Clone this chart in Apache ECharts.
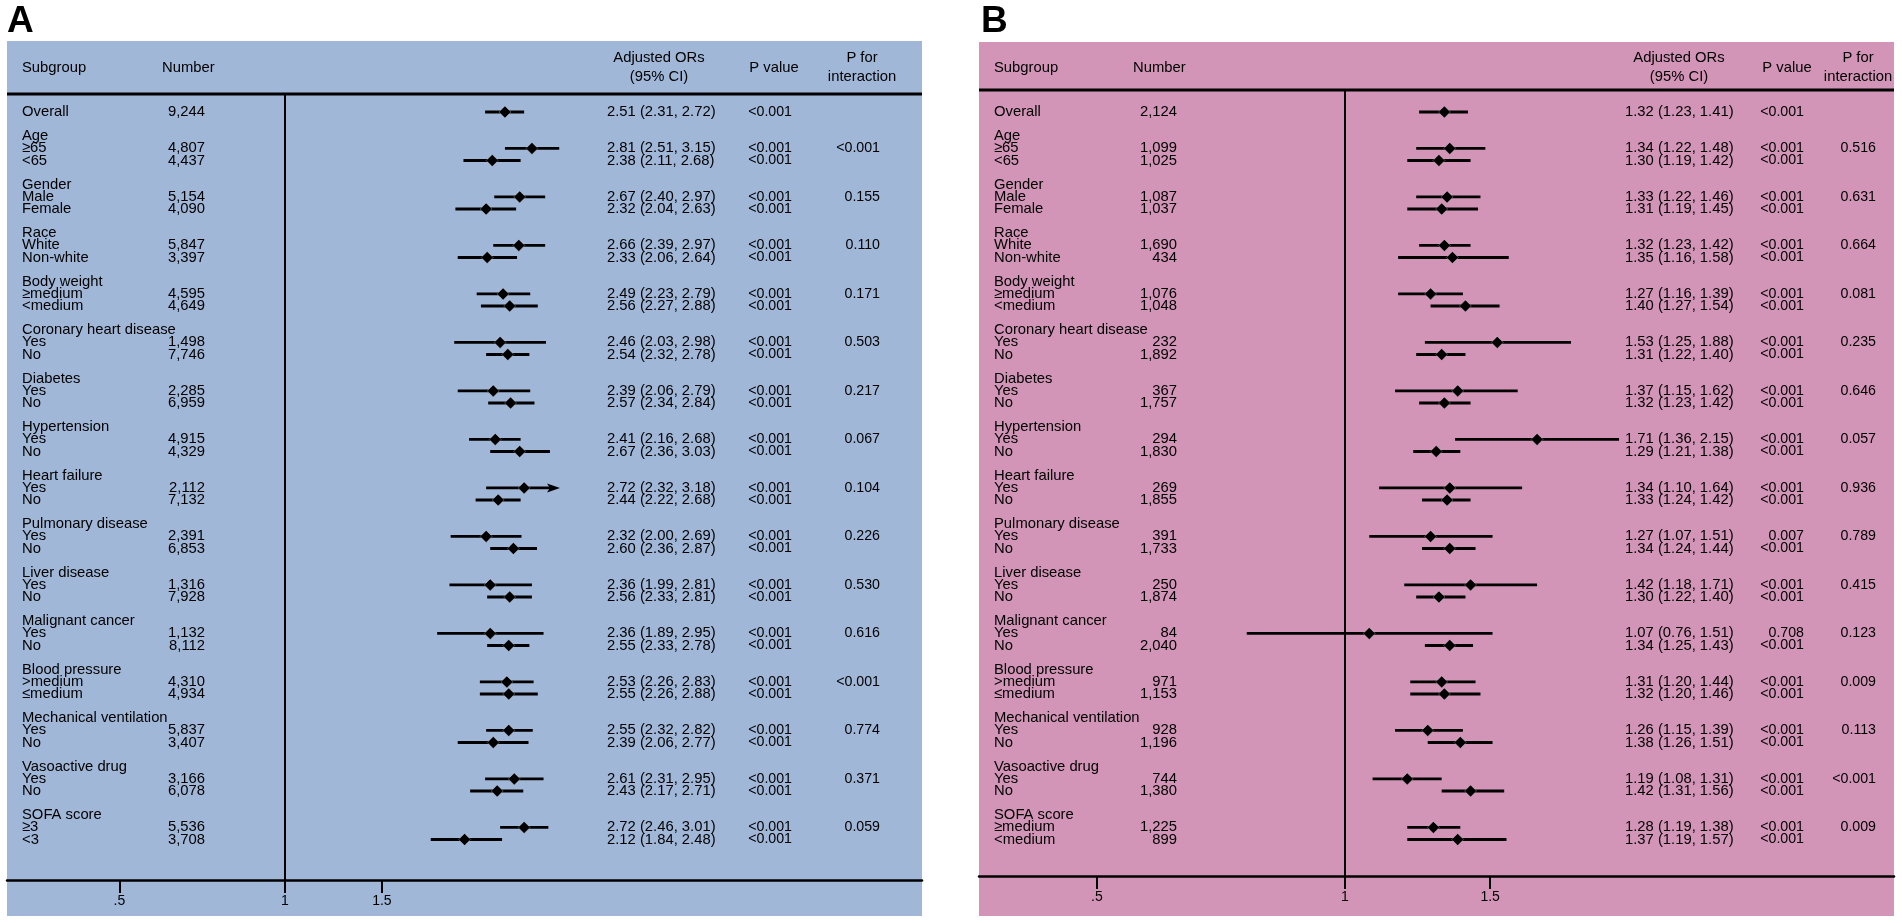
<!DOCTYPE html>
<html>
<head>
<meta charset="utf-8">
<script src="https://cdn.jsdelivr.net/npm/echarts@6/dist/echarts.min.js"></script>
<style>
html,body{margin:0;padding:0;background:#fff;}
#chart{width:1902px;height:923px;}
</style>
</head>
<body>
<div id="chart"></div>
<script>
// ---------------- DATA ----------------
const rowLabelsA = ['Overall','Age','≥65','<65','Gender','Male','Female','Race','White','Non-white','Body weight','≥medium','<medium','Coronary heart disease','Yes','No','Diabetes','Yes','No','Hypertension','Yes','No','Heart failure','Yes','No','Pulmonary disease','Yes','No','Liver disease','Yes','No','Malignant cancer','Yes','No','Blood pressure','>medium','≤medium','Mechanical ventilation','Yes','No','Vasoactive drug','Yes','No','SOFA score','≥3','<3'];
const rowLabelsB = ['Overall','Age','≥65','<65','Gender','Male','Female','Race','White','Non-white','Body weight','≥medium','<medium','Coronary heart disease','Yes','No','Diabetes','Yes','No','Hypertension','Yes','No','Heart failure','Yes','No','Pulmonary disease','Yes','No','Liver disease','Yes','No','Malignant cancer','Yes','No','Blood pressure','>medium','≤medium','Mechanical ventilation','Yes','No','Vasoactive drug','Yes','No','SOFA score','≥medium','<medium'];

const nA  = [9244, 4807,4437, 5154,4090, 5847,3397, 4595,4649, 1498,7746, 2285,6959, 4915,4329, 2112,7132, 2391,6853, 1316,7928, 1132,8112, 4310,4934, 5837,3407, 3166,6078, 5536,3708];
const orA = [2.51, 2.81,2.38, 2.67,2.32, 2.66,2.33, 2.49,2.56, 2.46,2.54, 2.39,2.57, 2.41,2.67, 2.72,2.44, 2.32,2.60, 2.36,2.56, 2.36,2.55, 2.53,2.55, 2.55,2.39, 2.61,2.43, 2.72,2.12];
const loA = [2.31, 2.51,2.11, 2.40,2.04, 2.39,2.06, 2.23,2.27, 2.03,2.32, 2.06,2.34, 2.16,2.36, 2.32,2.22, 2.00,2.36, 1.99,2.33, 1.89,2.33, 2.26,2.26, 2.32,2.06, 2.31,2.17, 2.46,1.84];
const hiA = [2.72, 3.15,2.68, 2.97,2.63, 2.97,2.64, 2.79,2.88, 2.98,2.78, 2.79,2.84, 2.68,3.03, 3.18,2.68, 2.69,2.87, 2.81,2.81, 2.95,2.78, 2.83,2.88, 2.82,2.77, 2.95,2.71, 3.01,2.48];
const pA  = ['<0.001','<0.001','<0.001','<0.001','<0.001','<0.001','<0.001','<0.001','<0.001','<0.001','<0.001','<0.001','<0.001','<0.001','<0.001','<0.001','<0.001','<0.001','<0.001','<0.001','<0.001','<0.001','<0.001','<0.001','<0.001','<0.001','<0.001','<0.001','<0.001','<0.001','<0.001'];
const pIntA = ['<0.001','0.155','0.110','0.171','0.503','0.217','0.067','0.104','0.226','0.530','0.616','<0.001','0.774','0.371','0.059'];

const nB  = [2124, 1099,1025, 1087,1037, 1690,434, 1076,1048, 232,1892, 367,1757, 294,1830, 269,1855, 391,1733, 250,1874, 84,2040, 971,1153, 928,1196, 744,1380, 1225,899];
const orB = [1.32, 1.34,1.30, 1.33,1.31, 1.32,1.35, 1.27,1.40, 1.53,1.31, 1.37,1.32, 1.71,1.29, 1.34,1.33, 1.27,1.34, 1.42,1.30, 1.07,1.34, 1.31,1.32, 1.26,1.38, 1.19,1.42, 1.28,1.37];
const loB = [1.23, 1.22,1.19, 1.22,1.19, 1.23,1.16, 1.16,1.27, 1.25,1.22, 1.15,1.23, 1.36,1.21, 1.10,1.24, 1.07,1.24, 1.18,1.22, 0.76,1.25, 1.20,1.20, 1.15,1.26, 1.08,1.31, 1.19,1.19];
const hiB = [1.41, 1.48,1.42, 1.46,1.45, 1.42,1.58, 1.39,1.54, 1.88,1.40, 1.62,1.42, 2.15,1.38, 1.64,1.42, 1.51,1.44, 1.71,1.40, 1.51,1.43, 1.44,1.46, 1.39,1.51, 1.31,1.56, 1.38,1.57];
const pB  = ['<0.001','<0.001','<0.001','<0.001','<0.001','<0.001','<0.001','<0.001','<0.001','<0.001','<0.001','<0.001','<0.001','<0.001','<0.001','<0.001','<0.001','0.007','<0.001','<0.001','<0.001','0.708','<0.001','<0.001','<0.001','<0.001','<0.001','<0.001','<0.001','<0.001','<0.001'];
const pIntB = ['0.516','0.631','0.664','0.081','0.235','0.646','0.057','0.936','0.789','0.415','0.123','0.009','0.113','<0.001','0.009'];

const axisTicks = [0.5, 1, 1.5];
const axisTickLabels = ['.5', '1', '1.5'];

// ---------------- LAYOUT ----------------
const FONT = '"Liberation Sans", Arial, Helvetica, sans-serif';
const ROW_PX = 12.125;
const FIRST_ROW_Y = 112;

const panels = [
  { letter:'A', color:'#A0B7D8', x:7, y:41, w:915, h:875, headerY:94, axisY:880,
    oneX:285, pxPerLn:239, min:0.4, max:3.16,
    colLabel:15, colNumR:198, colCI:600, colPR:785, colPIntR:873,
    hNumber:155, hCI:652, hP:767, hPInt:855,
    labels:rowLabelsA, n:nA, or:orA, lo:loA, hi:hiA, p:pA, pInt:pIntA },
  { letter:'B', color:'#D395B7', x:979, y:42, w:915, h:874, headerY:90, axisY:876,
    oneX:1345, pxPerLn:358, min:0.4, max:2.2,
    colLabel:15, colNumR:198, colCI:646, colPR:825, colPIntR:897,
    hNumber:154, hCI:700, hP:808, hPInt:879,
    labels:rowLabelsB, n:nB, or:orB, lo:loB, hi:hiB, p:pB, pInt:pIntB }
];

function rowUnits(labels){
  const labelY = [], dataY = [], pIntY = [];
  labels.forEach((t, i) => {
    let y;
    if (i === 0) { y = 0; dataY.push(y); }
    else {
      const g = Math.floor((i - 1) / 3), k = (i - 1) % 3;
      y = 2 + 4 * g + k;
      if (k > 0) dataY.push(y);
      if (k === 1) pIntY.push(y);
    }
    labelY.push(y);
  });
  return { labelY, dataY, pIntY };
}

const grids = [], xAxes = [], yAxes = [], series = [], graphics = [];

function textSeries(axisIdx, xVal, ys, texts, fontSize, align){
  return {
    type:'custom', coordinateSystem:'cartesian2d', xAxisIndex:axisIdx, yAxisIndex:axisIdx,
    silent:true, clip:false, animation:false, z:6,
    data: ys.map(y => [xVal, y]),
    renderItem: (params, api) => {
      const p = api.coord([api.value(0), api.value(1)]);
      return { type:'text', x:p[0], y:p[1],
        style:{ text:texts[params.dataIndex], fill:'#000', fontSize:fontSize, fontFamily:FONT,
                align:align, verticalAlign:'middle' } };
    }
  };
}

panels.forEach((P, pi) => {
  const tIdx = pi * 2, gIdx = pi * 2 + 1;
  const top = P.headerY, height = P.axisY - P.headerY;
  const yMin = -(FIRST_ROW_Y - top) / ROW_PX;
  const yMax = yMin + height / ROW_PX;
  const plotLeft = P.oneX + P.pxPerLn * Math.log(P.min);
  const plotRight = P.oneX + P.pxPerLn * Math.log(P.max);
  const R = rowUnits(P.labels);

  grids.push({ left:P.x, top:top, width:P.w, height:height, outerBoundsMode:'none', containLabel:false });
  grids.push({ left:plotLeft, top:top, width:plotRight - plotLeft, height:height, outerBoundsMode:'none', containLabel:false });

  xAxes.push({ type:'value', gridIndex:tIdx, min:0, max:P.w, position:'bottom',
    axisLine:{ show:true, onZero:false, lineStyle:{ color:'#000', width:2.5 } },
    axisTick:{ show:false }, axisLabel:{ show:false }, splitLine:{ show:false } });
  xAxes.push({ type:'log', gridIndex:gIdx, min:P.min, max:P.max, position:'bottom',
    axisLine:{ show:false, onZero:false },
    splitLine:{ show:false }, minorTick:{ show:false },
    axisTick:{ show:true, customValues:axisTicks, length:13, inside:false, lineStyle:{ color:'#000', width:2 } },
    axisLabel:{ show:true, customValues:axisTicks, margin:14, color:'#000', fontSize:14, fontFamily:FONT,
      formatter: v => { const i = axisTicks.findIndex(t => Math.abs(t - v) < 1e-9); return i >= 0 ? axisTickLabels[i] : ''; } } });

  yAxes.push({ type:'value', gridIndex:tIdx, inverse:true, min:yMin, max:yMax, show:false });
  yAxes.push({ type:'value', gridIndex:gIdx, inverse:true, min:yMin, max:yMax, show:false });

  // Text columns
  series.push(textSeries(tIdx, P.colLabel, R.labelY, P.labels, 14.8, 'left'));
  series.push(textSeries(tIdx, P.colNumR, R.dataY, P.n.map(v => v.toLocaleString('en-US')), 14.8, 'right'));
  series.push(textSeries(tIdx, P.colCI, R.dataY,
    P.or.map((v, i) => v.toFixed(2) + ' (' + P.lo[i].toFixed(2) + ', ' + P.hi[i].toFixed(2) + ')'), 14.8, 'left'));
  series.push(textSeries(tIdx, P.colPR, R.dataY, P.p, 14.2, 'right'));
  series.push(textSeries(tIdx, P.colPIntR, R.pIntY, P.pInt, 14.2, 'right'));

  // Confidence intervals
  const axMax = P.max;
  series.push({
    type:'custom', coordinateSystem:'cartesian2d', xAxisIndex:gIdx, yAxisIndex:gIdx,
    silent:true, clip:false, animation:false, z:4,
    encode:{ x:[0,1,2], y:3 },
    data: P.or.map((v, i) => [v, P.lo[i], P.hi[i], R.dataY[i]]),
    renderItem: (params, api) => {
      const y = api.value(3), lo = api.value(1), hi = api.value(2);
      const clipped = hi > axMax;
      const p1 = api.coord([lo, y]);
      const p2 = api.coord([clipped ? axMax : hi, y]);
      const children = [{ type:'line', shape:{ x1:p1[0], y1:p1[1], x2:clipped ? p2[0] - 6 : p2[0], y2:p2[1] },
        style:{ stroke:'#000', lineWidth:2.8 } }];
      if (clipped) {
        children.push({ type:'polygon', shape:{ points:[[p2[0], p2[1]], [p2[0] - 13, p2[1] - 4.5], [p2[0] - 10, p2[1]], [p2[0] - 13, p2[1] + 4.5]] },
          style:{ fill:'#000' } });
      }
      return { type:'group', children };
    }
  });

  // Point estimates + reference line at 1
  series.push({
    type:'scatter', xAxisIndex:gIdx, yAxisIndex:gIdx, silent:true, animation:false, z:5,
    symbol:'diamond', symbolSize:[12, 12],
    itemStyle:{ color:'#000', borderColor:'rgba(255,255,255,0.35)', borderWidth:0.8, opacity:1 },
    data: P.or.map((v, i) => [v, R.dataY[i]]),
    markLine:{ silent:true, animation:false, symbol:['none','none'], label:{ show:false },
      lineStyle:{ color:'#000', width:2, type:'solid' }, data:[{ xAxis:1 }] }
  });

  // Decorations
  graphics.push({ type:'rect', z:-10, shape:{ x:P.x, y:P.y, width:P.w, height:P.h }, style:{ fill:P.color } });
  graphics.push({ type:'line', z:10, shape:{ x1:P.x, y1:P.headerY, x2:P.x + P.w, y2:P.headerY }, style:{ stroke:'#000', lineWidth:3 } });
  graphics.push({ type:'text', z:10, x:P.x + (pi === 0 ? 0 : 2), y:22, style:{ text:P.letter, fill:'#000', fontSize:37, fontWeight:'bold', fontFamily:FONT, align:'left', verticalAlign:'middle' } });
  const hs = (txt, x, y, align) => graphics.push({ type:'text', z:10, x:x, y:y,
    style:{ text:txt, fill:'#000', fontSize:14.8, fontFamily:FONT, align:align, verticalAlign:'middle' } });
  hs('Subgroup', P.x + P.colLabel, 68, 'left');
  hs('Number', P.x + P.hNumber, 68, 'left');
  hs('Adjusted ORs', P.x + P.hCI, 58, 'center');
  hs('(95% CI)', P.x + P.hCI, 77, 'center');
  hs('P value', P.x + P.hP, 68, 'center');
  hs('P for', P.x + P.hPInt, 58, 'center');
  hs('interaction', P.x + P.hPInt, 77, 'center');
});

const chart = echarts.init(document.getElementById('chart'), null, { renderer:'canvas' });
chart.setOption({
  backgroundColor:'#ffffff',
  animation:false,
  grid:grids, xAxis:xAxes, yAxis:yAxes, series:series,
  graphic:{ elements:graphics }
});
</script>
</body>
</html>
